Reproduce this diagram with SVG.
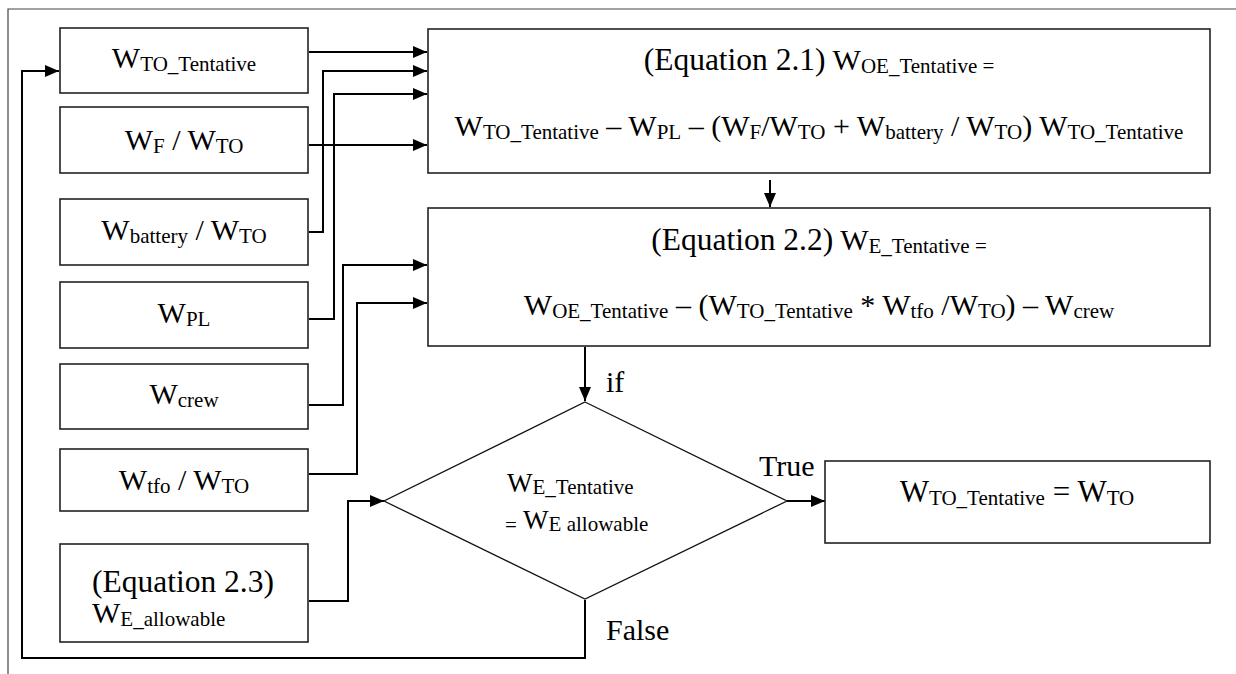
<svg xmlns="http://www.w3.org/2000/svg" width="1236" height="674" viewBox="0 0 1236 674" font-family="'Liberation Serif', Tinos, 'DejaVu Serif', serif">
  <style>
    .box { fill: #fff; stroke: #222; stroke-width: 1.6; }
    .dia { fill: #fff; stroke: #111; stroke-width: 1.3; }
    .frame { fill: none; stroke: #444; stroke-width: 1.2; }
    .wire { fill: none; stroke: #000; stroke-width: 2; }
    .arr { marker-end: url(#ah); }
    text { font-family: 'Liberation Serif', Tinos, 'DejaVu Serif', serif; fill: #000; }
    .m { font-size: 30px; }
    .e { font-size: 31.5px; }
    .s { font-size: 21px; }
    .c { text-anchor: middle; }
  </style>
  <defs>
    <marker id="ah" viewBox="0 0 14 12" refX="14" refY="6" markerWidth="14" markerHeight="12" markerUnits="userSpaceOnUse" orient="auto">
      <path d="M0,0 L14,6 L0,12 Z" fill="#000"/>
    </marker>
  </defs>

  <rect width="1236" height="674" fill="#fff"/>
  <!-- page frame -->
  <path class="frame" d="M8,674 V9 H1236"/>

  <!-- connectors -->
  <g id="connectors">
    <path class="wire arr" d="M309,52 H427"/>
    <path class="wire arr" d="M309,232 H323 V71 H427"/>
    <path class="wire arr" d="M309,319 H334 V94 H427"/>
    <path class="wire arr" d="M309,145 H427"/>
    <path class="wire arr" d="M309,405 H343 V265 H427"/>
    <path class="wire arr" d="M309,474 H357 V303 H427"/>
    <path class="wire arr" d="M770,180 V207"/>
    <path class="wire arr" d="M585,347 V401"/>
    <path class="wire arr" d="M309,601 H348 V501 H384"/>
    <path class="wire arr" d="M787,501 H825"/>
    <path class="wire arr" d="M585,600 V658 H22 V71 H59"/>
  </g>

  <!-- inputs -->
  <g id="n-wto-tentative">
    <rect class="box" x="60" y="28" width="248" height="65"/>
    <text class="m c" x="184" y="68" font-family="Liberation Serif">W<tspan class="s" dy="3">TO_Tentative</tspan></text>
  </g>
  <g id="n-wf-wto">
    <rect class="box" x="60" y="107" width="248" height="66"/>
    <text class="m c" x="184" y="150">W<tspan class="s" dy="3">F</tspan><tspan dy="-3"> / W</tspan><tspan class="s" dy="3">TO</tspan></text>
  </g>
  <g id="n-wbattery-wto">
    <rect class="box" x="60" y="199" width="248" height="66"/>
    <text class="m c" x="184" y="240">W<tspan class="s" dy="3">battery</tspan><tspan dy="-3"> / W</tspan><tspan class="s" dy="3">TO</tspan></text>
  </g>
  <g id="n-wpl">
    <rect class="box" x="60" y="282" width="248" height="66"/>
    <text class="m c" x="184" y="323">W<tspan class="s" dy="3">PL</tspan></text>
  </g>
  <g id="n-wcrew">
    <rect class="box" x="60" y="364" width="248" height="65"/>
    <text class="m c" x="184" y="404">W<tspan class="s" dy="3">crew</tspan></text>
  </g>
  <g id="n-wtfo-wto">
    <rect class="box" x="60" y="449" width="248" height="62"/>
    <text class="m c" x="184" y="490">W<tspan class="s" dy="3">tfo</tspan><tspan dy="-3"> / W</tspan><tspan class="s" dy="3">TO</tspan></text>
  </g>
  <g id="n-we-allowable">
    <rect class="box" x="60" y="544" width="248" height="98"/>
    <text class="e" x="92" y="592">(Equation 2.3)</text>
    <text class="m" x="92" y="623">W<tspan class="s" dy="3">E_allowable</tspan></text>
  </g>

  <!-- equation 2.1 -->
  <g id="n-eq21">
    <rect class="box" x="428" y="29" width="782" height="144"/>
    <text class="m c" x="819" y="70"><tspan class="e">(Equation 2.1)</tspan> W<tspan class="s" dy="3">OE_Tentative =</tspan></text>
    <text class="m c" x="819" y="136">W<tspan class="s" dy="3">TO_Tentative</tspan><tspan dy="-3"> – W</tspan><tspan class="s" dy="3">PL</tspan><tspan dy="-3"> – (W</tspan><tspan class="s" dy="3">F</tspan><tspan dy="-3">/W</tspan><tspan class="s" dy="3">TO</tspan><tspan dy="-3"> + W</tspan><tspan class="s" dy="3">battery</tspan><tspan dy="-3"> / W</tspan><tspan class="s" dy="3">TO</tspan><tspan dy="-3">) W</tspan><tspan class="s" dy="3">TO_Tentative</tspan></text>
  </g>

  <!-- equation 2.2 -->
  <g id="n-eq22">
    <rect class="box" x="428" y="208" width="782" height="138"/>
    <text class="m c" x="819" y="250"><tspan class="e">(Equation 2.2)</tspan> W<tspan class="s" dy="3">E_Tentative =</tspan></text>
    <text class="m c" x="819" y="315">W<tspan class="s" dy="3">OE_Tentative</tspan><tspan dy="-3"> – (W</tspan><tspan class="s" dy="3">TO_Tentative</tspan><tspan dy="-3"> * W</tspan><tspan class="s" dy="3">tfo</tspan><tspan dy="-3"> /W</tspan><tspan class="s" dy="3">TO</tspan><tspan dy="-3">) – W</tspan><tspan class="s" dy="3">crew</tspan></text>
  </g>

  <!-- decision -->
  <g id="n-check">
    <polygon class="dia" points="585,402 787,501 585,599 384,501"/>
    <text x="507" y="492" style="font-size:27px">W<tspan class="s" dy="2">E_Tentative</tspan></text>
    <text x="505" y="529" style="font-size:27px"><tspan class="s" dy="3">=</tspan><tspan dy="-3"> W</tspan><tspan class="s" dy="2">E allowable</tspan></text>
  </g>

  <!-- branch labels -->
  <g id="labels">
    <text class="m" x="606" y="392">if</text>
    <text class="m" x="759" y="476">True</text>
    <text class="m" x="606" y="640">False</text>
  </g>

  <!-- result -->
  <g id="n-result">
    <rect class="box" x="825" y="461" width="385" height="82"/>
    <text class="c" x="1017" y="502" style="font-size:31px">W<tspan class="s" dy="3">TO_Tentative</tspan><tspan dy="-3"> = W</tspan><tspan class="s" dy="3">TO</tspan></text>
  </g>
</svg>
